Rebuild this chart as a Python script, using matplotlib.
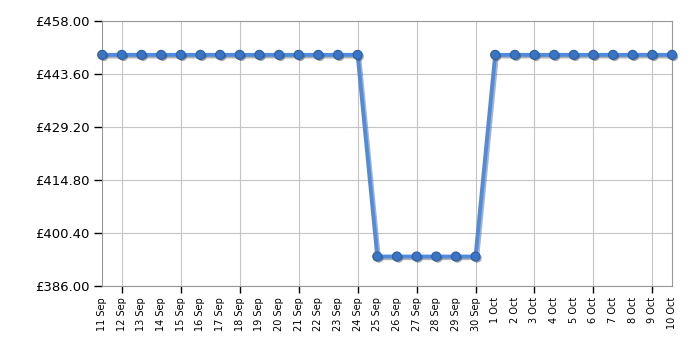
import matplotlib
matplotlib.use("Agg")
import matplotlib.pyplot as plt
import matplotlib.patheffects as pe
from matplotlib.ticker import FixedLocator, FuncFormatter

# data
dates = ["11 Sep", "12 Sep", "13 Sep", "14 Sep", "15 Sep", "16 Sep", "17 Sep", "18 Sep",
         "19 Sep", "20 Sep", "21 Sep", "22 Sep", "23 Sep", "24 Sep", "25 Sep", "26 Sep",
         "27 Sep", "28 Sep", "29 Sep", "30 Sep", "1 Oct", "2 Oct", "3 Oct", "4 Oct",
         "5 Oct", "6 Oct", "7 Oct", "8 Oct", "9 Oct", "10 Oct"]
prices = [448.8] * 14 + [394.0] * 6 + [448.8] * 10
yticks = [386.0, 400.4, 414.8, 429.2, 443.6, 458.0]

x = list(range(len(dates)))

fig = plt.figure(figsize=(7, 3.5), dpi=100)
ax = fig.add_axes([0.146, 0.183, 0.814, 0.757])

# line + markers, each with a small grey drop shadow
line_shadow = [pe.SimpleLineShadow(offset=(1.2, -1.2), shadow_color="#555555", alpha=0.45), pe.Normal()]
dot_shadow = [pe.SimplePatchShadow(offset=(1.2, -1.2), shadow_rgbFace="#444444", alpha=0.5), pe.Normal()]
ax.plot(x, prices, color="#4f8ce0", lw=2.8, zorder=3, clip_on=False, path_effects=line_shadow)
ax.plot(x, prices, ls="none", marker="o", ms=6.5, mfc="#3a74c4", mec="#2c5ea0",
        mew=0.8, clip_on=False, zorder=4, path_effects=dot_shadow)

ax.set_xlim(0, len(dates) - 1)
ax.set_ylim(386, 458)

ax.set_yticks(yticks)
ax.yaxis.set_major_formatter(FuncFormatter(lambda v, p: "£%.2f" % v))
ax.tick_params(axis="y", length=6, width=1, color="black", labelsize=9.5, pad=3)

ax.set_xticks(x)
ax.set_xticklabels(dates, rotation=90, fontsize=7)
ax.tick_params(axis="x", which="major", length=0, pad=8)
# tick marks + vertical grid every 3 days
ax.xaxis.remove_overlapping_locs = False
ax.xaxis.set_minor_locator(FixedLocator(x[1::3]))
ax.tick_params(axis="x", which="minor", length=5, width=1, color="black")

ax.grid(True, axis="y", color="#c4c4c4", lw=0.8)
ax.grid(True, axis="x", which="minor", color="#c4c4c4", lw=0.8)
ax.set_axisbelow(True)

for s in ax.spines.values():
    s.set_color("#999999")
    s.set_linewidth(0.8)

fig.savefig("out.png", dpi=100)
